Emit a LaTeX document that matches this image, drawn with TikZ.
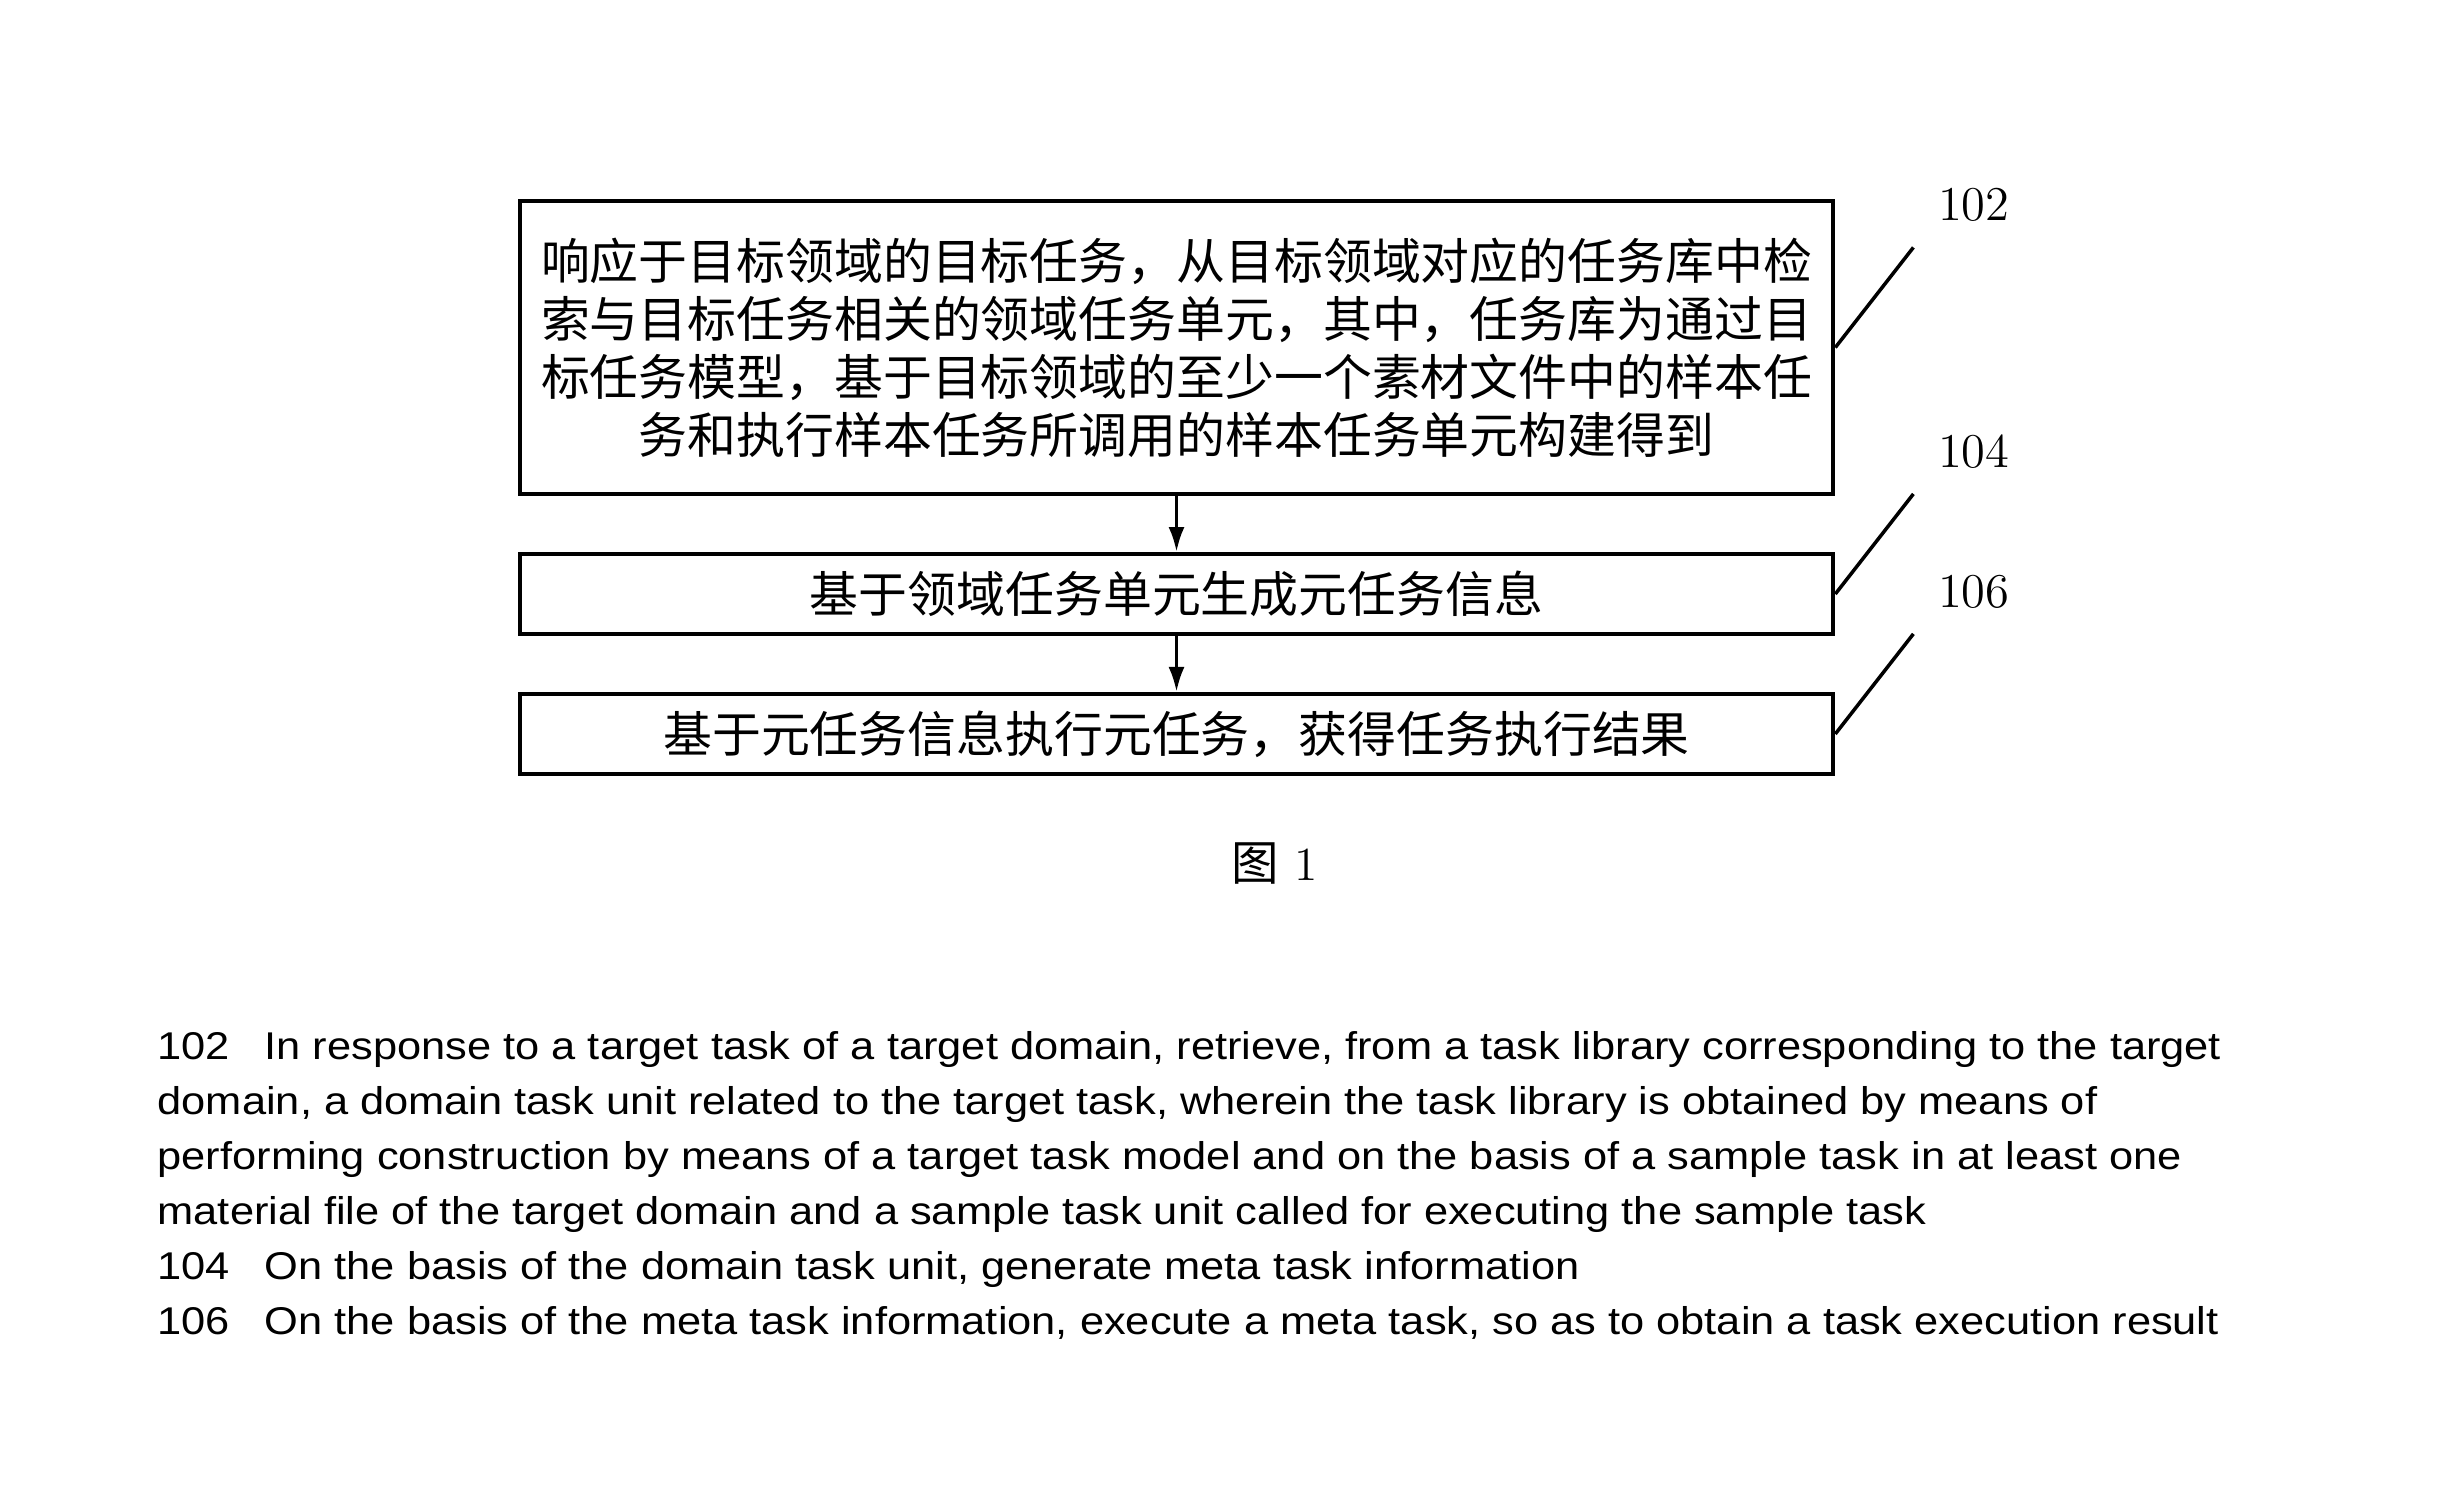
\documentclass[tikz,border=0pt]{standalone}
\usepackage{fontspec}
\usepackage{tikz}
\usetikzlibrary{arrows.meta,positioning,calc}
\newfontfamily\cjk{Noto Sans CJK SC}
\newfontfamily\arial[FakeStretch=1.122]{Liberation Sans}
\newcommand\stepfont{\cjk\fontsize{13.9pt}{16.5pt}\selectfont}
\tikzset{
  stepbox/.style={rectangle, draw=black, line width=1.1pt, minimum width=13.13cm,
    align=center, font=\stepfont, inner sep=0pt,
    execute at begin node={\setlength{\lineskiplimit}{-20pt}}},
  flowarrow/.style={-{Latex[length=2.5mm,width=1.6mm]}, draw=black, line width=1pt},
  leaderline/.style={draw=black, line width=1pt},
  reflabel/.style={font=\fontsize{13.8pt}{16pt}\selectfont, inner sep=0pt},
  legendtext/.style={font=\arial\fontsize{11pt}{15.6pt}\selectfont, align=left,
    inner sep=0pt},
}
\begin{document}
\begin{tikzpicture}[x=0.01cm, y=-0.01cm, node distance=0.56cm]
  \useasboundingbox (0,0) rectangle (2449,1507);

  % Steps (top to bottom)
  \node[stepbox, minimum height=2.93cm] (s102) at (1176.5,347.5)
    {响应于目标领域的目标任务，从目标领域对应的任务库中检\\
     索与目标任务相关的领域任务单元，其中，任务库为通过目\\
     标任务模型，基于目标领域的至少一个素材文件中的样本任\\
     务和执行样本任务所调用的样本任务单元构建得到};
  \node[stepbox, minimum height=0.80cm, below=of s102] (s104) {基于领域任务单元生成元任务信息};
  \node[stepbox, minimum height=0.80cm, below=of s104] (s106) {基于元任务信息执行元任务，获得任务执行结果};

  % Arrows between steps
  \draw[flowarrow] (s102) -- (s104);
  \draw[flowarrow] (s104) -- (s106);

  % Reference numerals with leader lines
  \coordinate (l102) at ($(s102.east)+(0.78cm,1.0cm)$);
  \coordinate (l104) at ($(s104.east)+(0.78cm,1.0cm)$);
  \coordinate (l106) at ($(s106.east)+(0.78cm,1.0cm)$);
  \draw[leaderline] (s102.east) -- (l102);
  \draw[leaderline] (s104.east) -- (l104);
  \draw[leaderline] (s106.east) -- (l106);
  \node[reflabel, above right=0.25cm and 0.24cm of l102] (n102) {102};
  \node[reflabel, above right=0.25cm and 0.24cm of l104] (n104) {104};
  \node[reflabel, above right=0.25cm and 0.24cm of l106] (n106) {106};

  % Figure caption
  \node[font=\fontsize{13.5pt}{16pt}\selectfont] (fig) at (1275,864) {{\cjk 图}\ 1};

  % Legend of reference numerals
  \node[legendtext, anchor=north west] (legend) at (157,1031)
    {\makebox[1.07cm][l]{102}In response to a target task of a target domain, retrieve, from a task library corresponding to the target\\
     domain, a domain task unit related to the target task, wherein the task library is obtained by means of\\
     performing construction by means of a target task model and on the basis of a sample task in at least one\\
     material file of the target domain and a sample task unit called for executing the sample task\\
     \makebox[1.07cm][l]{104}On the basis of the domain task unit, generate meta task information\\
     \makebox[1.07cm][l]{106}On the basis of the meta task information, execute a meta task, so as to obtain a task execution result};

\end{tikzpicture}
\end{document}
